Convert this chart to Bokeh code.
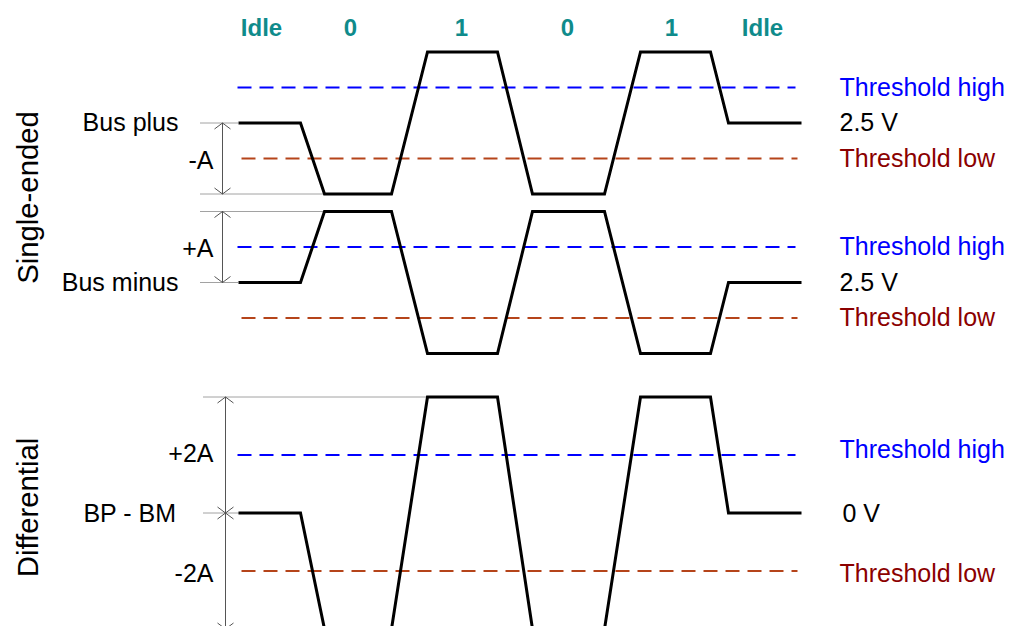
import numpy as np
from bokeh.plotting import figure
from bokeh.models import Range1d, ColumnDataSource
from bokeh.core.properties import value
from bokeh.embed import file_html
from bokeh.resources import INLINE

# ---------------- data ----------------
bits = ["Idle", "0", "1", "0", "1", "Idle"]
bit_label_t = [261, 350, 461, 567, 671, 762]          # time of each bit label
t_start = 238
t_end = 801
edge_begin = [300, 391, 497, 604, 710]                 # transition start times
edge_finish = [324, 427, 532, 640, 728]                # transition end times
bus_plus_level = [0, -1, 1, -1, 1, 0]                  # in units of A around 2.5 V
bus_minus_level = [0, 1, -1, 1, -1, 0]
diff_level = [p - m for p, m in zip(bus_plus_level, bus_minus_level)]
se_thresholds = [0.5, -0.5]                            # single-ended thresholds (A)
diff_thresholds = [1.0, -1.0]                          # differential thresholds (A)
threshold_names = ["Threshold high", "Threshold low"]
se_idle_label = "2.5 V"
diff_idle_label = "0 V"
headings = ["Single-ended", "Differential"]

# ---------------- layout / style ----------------
W, H = 1012, 626
PX_TOP, PX_BOTTOM = 0, 626
FONT = value("Liberation Sans")
BLUE = "#0000FF"
ORANGE = "#B5441A"
DARKRED = "#8B0000"
TEAL = "#0F8B8B"
DIMC = "#555555"
HEAD_HALF, HEAD_LEN = 8, 6
LABEL_SIZE = "25px"


def panel_range(base_px, px_per_unit):
    return Range1d(start=(base_px - PX_BOTTOM) / px_per_unit,
                   end=(base_px - PX_TOP) / px_per_unit)


panels = {"bp": (122.5, 71.0), "bm": (282.0, 71.0), "diff": (512.5, 58.0)}

p = figure(width=W, height=H, x_range=Range1d(0, W), y_range=Range1d(PX_BOTTOM, PX_TOP),
           output_backend="svg", toolbar_location=None,
           x_axis_location=None, y_axis_location=None, min_border=0)
p.outline_line_color = None
p.background_fill_color = "white"
p.border_fill_color = "white"
p.xgrid.grid_line_color = None
p.ygrid.grid_line_color = None
p.extra_y_ranges = {k: panel_range(*v) for k, v in panels.items()}


def wave(levels):
    ts, ls = [t_start], [levels[0]]
    for i in range(len(edge_begin)):
        ts += [edge_begin[i], edge_finish[i]]
        ls += [levels[i], levels[i + 1]]
    ts.append(t_end)
    ls.append(levels[-1])
    return ts, ls


def head(x, lvl, up, scale):
    d = (-HEAD_LEN if up else HEAD_LEN) / scale
    return [x - HEAD_HALF, x, x + HEAD_HALF], [lvl + d, lvl, lvl + d]


def add_dimension(rng, x, pairs, ext):
    scale = panels[rng][1]
    xs, ys = [], []
    for (top, bot) in pairs:
        p.segment(x0=[x], y0=[top], x1=[x], y1=[bot], line_color=DIMC, line_width=1,
                  y_range_name=rng)
        hx, hy = head(x, top, True, scale)
        xs.append(hx); ys.append(hy)
        hx, hy = head(x, bot, False, scale)
        xs.append(hx); ys.append(hy)
    p.multi_line(xs=xs, ys=ys, line_color=DIMC, line_width=1, y_range_name=rng)
    for (x0, x1, lv) in ext:
        p.segment(x0=[x0], y0=[lv], x1=[x1], y1=[lv], line_color="#444444",
                  line_width=1, line_dash="1 1", y_range_name=rng)


def add_thresholds(rng, ths):
    for th, col, x0, x1 in zip(ths, [BLUE, ORANGE], [237, 241], [795, 797]):
        p.segment(x0=[x0], y0=[th], x1=[x1], y1=[th], line_color=col, line_width=2,
                  line_dash="14 8", y_range_name=rng)


# dimension markers (behind waveforms)
add_dimension("bp", 222, [(0, -1)], [(200, t_start, 0), (200, edge_finish[0], -1)])
add_dimension("bm", 222, [(1, 0)], [(200, edge_finish[0], 1), (200, t_start, 0)])
add_dimension("diff", 225, [(2, 0), (0, -2)], [(203, edge_finish[1], 2), (203, t_start + 2, 0)])

# thresholds
add_thresholds("bp", se_thresholds)
add_thresholds("bm", se_thresholds)
add_thresholds("diff", diff_thresholds)

# waveforms
for rng, lv in [("bp", bus_plus_level), ("bm", bus_minus_level), ("diff", diff_level)]:
    ts, ls = wave(lv)
    p.line(ts, ls, line_color="black", line_width=3, line_join="miter", y_range_name=rng)


def txt(rng, x, y, s, color="black", align="left", size=LABEL_SIZE, style="normal", yoff=0):
    kw = {"y_range_name": rng} if rng else {}
    p.text(x=[x], y=[y], text=[s], text_color=color, text_align=align,
           text_baseline="middle", text_font=FONT, text_font_size=size,
           text_font_style=style, y_offset=yoff, **kw)


# bit labels
src_bits = ColumnDataSource(dict(x=bit_label_t, y=[26.7] * len(bits), text=bits))
p.text(x="x", y="y", text="text", source=src_bits, text_color=TEAL, text_align="center",
       text_baseline="middle", text_font=FONT, text_font_size="24px",
       text_font_style="bold")

# left labels
txt("bp", 178, 0, "Bus plus", align="right", yoff=-1)
txt("bp", 213, -0.5, "-A", align="right", yoff=1)
txt("bm", 213, 0.5, "+A", align="right", yoff=1)
txt("bm", 178, 0, "Bus minus", align="right", yoff=-1)
txt("diff", 213, 1, "+2A", align="right", yoff=-2)
txt("diff", 176, 0, "BP - BM", align="right")
txt("diff", 213, -1, "-2A", align="right", yoff=2)

# right labels
for rng in ["bp", "bm"]:
    txt(rng, 839, se_thresholds[0], threshold_names[0], color=BLUE, yoff=-1)
    txt(rng, 839, 0, se_idle_label, yoff=-1)
    txt(rng, 839, se_thresholds[1], threshold_names[1], color=DARKRED, yoff=-1)
txt("diff", 839, diff_thresholds[0], threshold_names[0], color=BLUE, yoff=-6.5)
txt("diff", 842, 0, diff_idle_label)
txt("diff", 839, diff_thresholds[1], threshold_names[1], color=DARKRED, yoff=1.5)

# rotated headings
p.text(x=[27, 27], y=[197, 507], text=headings, angle=np.pi / 2, text_align="center",
       text_baseline="middle", text_font=FONT, text_font_size="29.3px",
       text_color="black")

open("out.html", "w").write(file_html(p, INLINE))
